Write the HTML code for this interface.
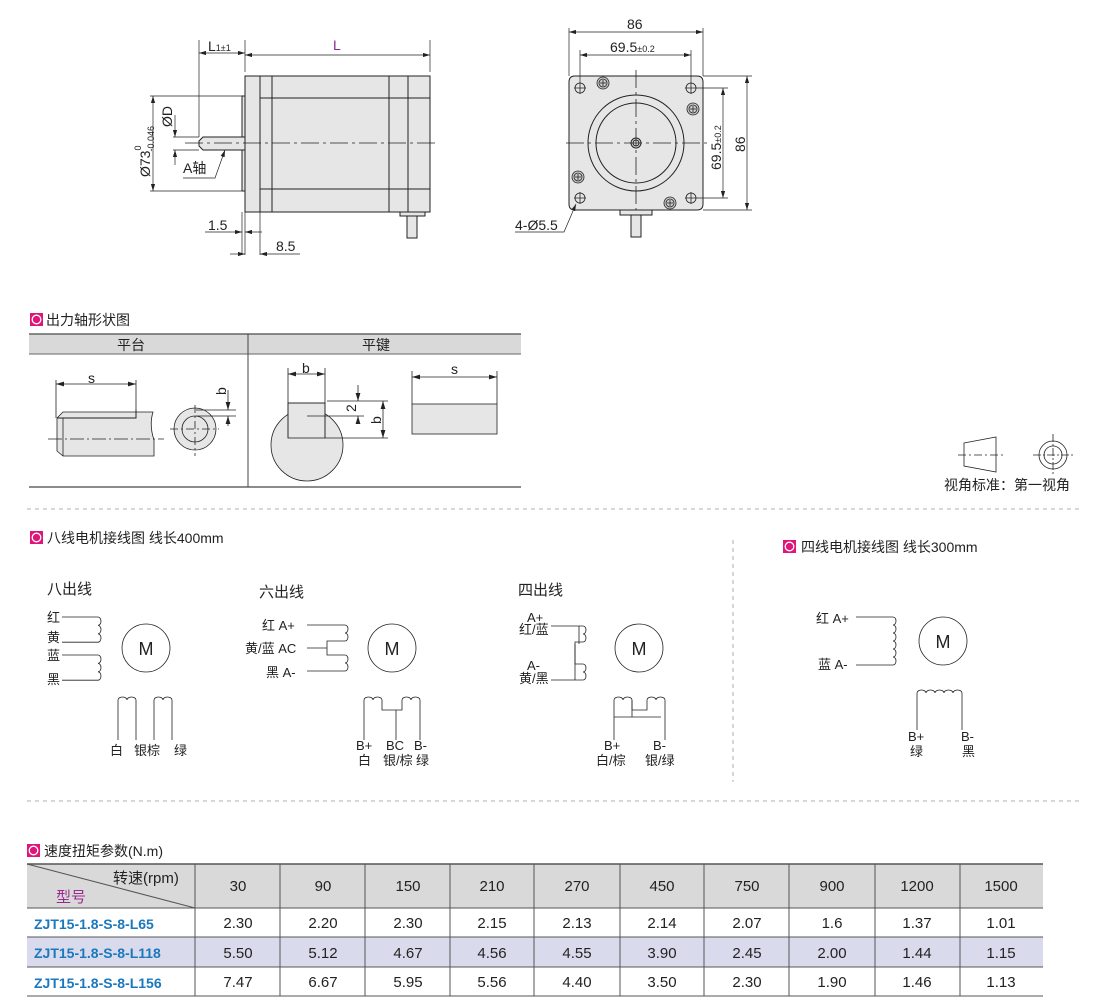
<!DOCTYPE html>
<html><head><meta charset="utf-8"><style>
html,body{margin:0;padding:0;background:#fff;}
svg{display:block;}
text{font-family:"Liberation Sans","Noto Sans CJK SC",sans-serif;fill:#222;}
</style></head><body>
<svg width="1110" height="998" viewBox="0 0 1110 998" xmlns="http://www.w3.org/2000/svg">
<defs>
<marker id="ar" viewBox="0 0 10 6" refX="10" refY="3" markerWidth="10" markerHeight="6" orient="auto-start-reverse"><path d="M0 0L10 3L0 6z" fill="#222"/></marker>
<g id="mk"><rect width="13" height="13" fill="#e0157a"/><circle cx="6.5" cy="6.5" r="4.3" fill="none" stroke="#fff" stroke-width="1.3"/></g>
</defs>
<g stroke="#222" stroke-width="1" fill="none">
<rect x="245" y="76" width="185" height="136" fill="#e6e6e6"/>
<rect x="242" y="96" width="3" height="95" fill="#e6e6e6"/>
<line x1="260" y1="76" x2="260" y2="212"/><line x1="272" y1="76" x2="272" y2="212"/>
<line x1="389" y1="76" x2="389" y2="212"/><line x1="408" y1="76" x2="408" y2="212"/>
<line x1="260" y1="98" x2="430" y2="98"/><line x1="260" y1="189" x2="430" y2="189"/>
<path d="M203 137H245V150H203L199 146V141Z" fill="#e6e6e6"/>
<line x1="185" y1="143" x2="438" y2="143" stroke-dasharray="18 4 3 4" stroke-width="0.8"/>
<rect x="400" y="212" width="25" height="4" fill="#e6e6e6"/>
<rect x="407" y="216" width="10" height="22" fill="#e6e6e6"/>
<line x1="199" y1="40" x2="199" y2="137" stroke-width="0.7"/>
<line x1="245" y1="40" x2="245" y2="72" stroke-width="0.7"/>
<line x1="430" y1="40" x2="430" y2="72" stroke-width="0.7"/>
<line x1="199" y1="53" x2="245" y2="53" marker-start="url(#ar)" marker-end="url(#ar)" stroke-width="0.7"/>
<line x1="245" y1="55" x2="430" y2="55" marker-start="url(#ar)" marker-end="url(#ar)" stroke-width="0.7"/>
<line x1="150" y1="96" x2="242" y2="96" stroke-width="0.7"/><line x1="150" y1="191" x2="242" y2="191" stroke-width="0.7"/>
<line x1="153" y1="96" x2="153" y2="191" marker-start="url(#ar)" marker-end="url(#ar)" stroke-width="0.7"/>
<line x1="173" y1="137" x2="199" y2="137" stroke-width="0.7"/><line x1="173" y1="150" x2="199" y2="150" stroke-width="0.7"/>
<line x1="175" y1="115" x2="175" y2="137" marker-end="url(#ar)" stroke-width="0.7"/>
<line x1="175" y1="165" x2="175" y2="150" marker-end="url(#ar)" stroke-width="0.7"/>
<path d="M183 178H215L225 150" stroke-width="0.7" marker-end="url(#ar)"/>
<line x1="242" y1="212" x2="242" y2="255" stroke-width="0.7"/><line x1="245" y1="212" x2="245" y2="255" stroke-width="0.7"/><line x1="260" y1="212" x2="260" y2="255" stroke-width="0.7"/>
<line x1="205" y1="232" x2="242" y2="232" marker-end="url(#ar)" stroke-width="0.7"/><line x1="262" y1="232" x2="245" y2="232" marker-end="url(#ar)" stroke-width="0.7"/>
<line x1="230" y1="254" x2="245" y2="254" marker-end="url(#ar)" stroke-width="0.7"/><line x1="300" y1="254" x2="260" y2="254" marker-end="url(#ar)" stroke-width="0.7"/>
<path d="M575 76H697Q703 76 703 82V204Q703 210 697 210H575Q569 210 569 204V82Q569 76 575 76Z" fill="#e6e6e6"/>
<circle cx="636" cy="143" r="48"/><circle cx="636" cy="143" r="40"/>
<circle cx="636" cy="143" r="5"/><circle cx="636" cy="143" r="3"/>
<line x1="566" y1="143" x2="707" y2="143" stroke-dasharray="18 4 3 4" stroke-width="0.8"/>
<line x1="636" y1="70" x2="636" y2="228" stroke-dasharray="18 4 3 4" stroke-width="0.8"/>
<g stroke-width="0.8">
<circle cx="580" cy="88" r="5"/><path d="M574 88h12M580 82v12"/>
<circle cx="691" cy="88" r="5"/><path d="M685 88h12M691 82v12"/>
<circle cx="580" cy="198" r="5"/><path d="M574 198h12M580 192v12"/>
<circle cx="691" cy="198" r="5"/><path d="M685 198h12M691 192v12"/>
<circle cx="603" cy="83" r="6" fill="#ccc"/><circle cx="603" cy="83" r="4"/><path d="M600 83h6M603 80v6"/>
<circle cx="693" cy="109" r="6" fill="#ccc"/><circle cx="693" cy="109" r="4"/><path d="M690 109h6M693 106v6"/>
<circle cx="578" cy="177" r="6" fill="#ccc"/><circle cx="578" cy="177" r="4"/><path d="M575 177h6M578 174v6"/>
<circle cx="670" cy="203" r="6" fill="#ccc"/><circle cx="670" cy="203" r="4"/><path d="M667 203h6M670 200v6"/>
</g>
<rect x="620" y="210" width="32" height="5" fill="#e6e6e6"/>
<rect x="631" y="215" width="10" height="22" fill="#e6e6e6"/>
<line x1="569" y1="28" x2="569" y2="76" stroke-width="0.7"/><line x1="703" y1="28" x2="703" y2="76" stroke-width="0.7"/>
<line x1="569" y1="32" x2="703" y2="32" marker-start="url(#ar)" marker-end="url(#ar)" stroke-width="0.7"/>
<line x1="580" y1="50" x2="580" y2="82" stroke-width="0.7"/><line x1="691" y1="50" x2="691" y2="82" stroke-width="0.7"/>
<line x1="580" y1="55" x2="691" y2="55" marker-start="url(#ar)" marker-end="url(#ar)" stroke-width="0.7"/>
<line x1="703" y1="76" x2="752" y2="76" stroke-width="0.7"/><line x1="703" y1="210" x2="752" y2="210" stroke-width="0.7"/>
<line x1="747" y1="76" x2="747" y2="210" marker-start="url(#ar)" marker-end="url(#ar)" stroke-width="0.7"/>
<line x1="697" y1="88" x2="728" y2="88" stroke-width="0.7"/><line x1="697" y1="198" x2="728" y2="198" stroke-width="0.7"/>
<line x1="723" y1="88" x2="723" y2="198" marker-start="url(#ar)" marker-end="url(#ar)" stroke-width="0.7"/>
<path d="M515 232H564L576 204" stroke-width="0.7" marker-end="url(#ar)"/>
</g>
<g font-size="14">
<text x="208" y="51">L<tspan font-size="9">1±1</tspan></text>
<text x="333" y="50" style="fill:#8a2c8a">L</text>
<text x="208" y="230">1.5</text><text x="276" y="251">8.5</text>
<text x="183" y="173">A轴</text>
<text transform="translate(172 127) rotate(-90)">ØD</text>
<text transform="translate(150 177) rotate(-90)">Ø73<tspan font-size="9" dy="-9">0</tspan><tspan font-size="9" dx="-6" dy="13">-0.046</tspan></text>
<text x="627" y="29">86</text>
<text x="610" y="52">69.5<tspan font-size="9">±0.2</tspan></text>
<text transform="translate(745 152) rotate(-90)">86</text>
<text transform="translate(721 170) rotate(-90)">69.5<tspan font-size="9">±0.2</tspan></text>
<text x="515" y="230">4-Ø5.5</text>
</g>
<use href="#mk" x="30" y="313"/>
<text x="46" y="325" font-size="14">出力轴形状图</text>
<rect x="29" y="334" width="492" height="20" fill="#d9d9d9"/>
<line x1="29" y1="334" x2="521" y2="334" stroke="#666" stroke-width="1.5"/>
<line x1="29" y1="354" x2="521" y2="354" stroke="#666"/>
<line x1="29" y1="487" x2="521" y2="487" stroke="#666" stroke-width="1.5"/>
<line x1="248" y1="334" x2="248" y2="487" stroke="#444"/>
<text x="117" y="350" font-size="14">平台</text><text x="362" y="350" font-size="14">平键</text>
<g stroke="#222" stroke-width="0.8" fill="none">
<path d="M57 418L63 412H153Q149 425 154 440V456H63L57 451Z" fill="#e6e6e6"/>
<line x1="63" y1="418" x2="63" y2="456"/>
<path d="M57 418H136V410" stroke-width="1"/>
<line x1="48" y1="439" x2="164" y2="439" stroke-dasharray="14 3 2 3"/>
<line x1="56" y1="380" x2="56" y2="418"/><line x1="136" y1="380" x2="136" y2="410"/>
<line x1="56" y1="384" x2="136" y2="384" marker-start="url(#ar)" marker-end="url(#ar)"/>
<circle cx="195" cy="429" r="21" fill="#e6e6e6"/><circle cx="195" cy="429" r="13"/>
<line x1="170" y1="429" x2="219" y2="429" stroke-dasharray="8 3 2 3"/>
<line x1="195" y1="405" x2="195" y2="456" stroke-dasharray="8 3 2 3"/>
<line x1="196" y1="410" x2="236" y2="410"/><line x1="196" y1="416" x2="236" y2="416"/>
<line x1="228" y1="390" x2="228" y2="410" marker-end="url(#ar)"/><line x1="228" y1="426" x2="228" y2="416" marker-end="url(#ar)"/>
<circle cx="307" cy="445" r="36" fill="#e6e6e6"/>
<rect x="288" y="403" width="37" height="35" fill="#e6e6e6"/>
<path d="M288 438V403H325V438" />
<line x1="288" y1="368" x2="288" y2="403"/><line x1="325" y1="368" x2="325" y2="403"/>
<line x1="288" y1="374" x2="325" y2="374" marker-start="url(#ar)" marker-end="url(#ar)"/>
<line x1="327" y1="401" x2="388" y2="401"/><line x1="307" y1="416" x2="364" y2="416"/><line x1="325" y1="438" x2="388" y2="438"/>
<line x1="358" y1="385" x2="358" y2="401" marker-end="url(#ar)"/><line x1="358" y1="424" x2="358" y2="416" marker-end="url(#ar)"/>
<line x1="383" y1="401" x2="383" y2="438" marker-start="url(#ar)" marker-end="url(#ar)"/>
<rect x="412" y="404" width="85" height="30" fill="#e6e6e6"/>
<line x1="412" y1="371" x2="412" y2="404"/><line x1="497" y1="371" x2="497" y2="404"/>
<line x1="412" y1="377" x2="497" y2="377" marker-start="url(#ar)" marker-end="url(#ar)"/>
</g>
<g font-size="14">
<text x="88" y="383">s</text><text x="302" y="373">b</text><text x="451" y="374">s</text>
<text transform="translate(226 395) rotate(-90)">b</text>
<text transform="translate(356 412) rotate(-90)">2</text>
<text transform="translate(381 424) rotate(-90)">b</text>
</g>
<g stroke="#222" stroke-width="0.8" fill="none">
<path d="M964 443L996 437V472L964 466Z"/>
<line x1="958" y1="455" x2="1003" y2="455" stroke-dasharray="8 3 2 3"/>
<circle cx="1053" cy="455" r="14"/><circle cx="1053" cy="455" r="9"/>
<line x1="1033" y1="455" x2="1073" y2="455" stroke-dasharray="8 2 2 2"/><line x1="1053" y1="434" x2="1053" y2="476" stroke-dasharray="8 2 2 2"/>
</g>
<text x="944" y="490" font-size="14">视角标准：第一视角</text>
<g stroke="#999" stroke-dasharray="4 4" stroke-width="0.8">
<line x1="27" y1="509" x2="1083" y2="509"/><line x1="27" y1="801" x2="1083" y2="801"/>
<line x1="733" y1="540" x2="733" y2="782"/>
</g>
<use href="#mk" x="30" y="531"/>
<text x="47" y="543" font-size="14">八线电机接线图  线长400mm</text>
<use href="#mk" x="783" y="540"/>
<text x="801" y="552" font-size="14">四线电机接线图  线长300mm</text>
<g font-size="15"><text x="47" y="594">八出线</text><text x="259" y="597">六出线</text><text x="518" y="595">四出线</text></g>
<g stroke="#222" stroke-width="0.8" fill="none">
<circle cx="146" cy="648" r="24"/><circle cx="392" cy="648" r="24"/><circle cx="639" cy="648" r="24"/><circle cx="943" cy="641" r="24"/>
<path d="M62 617H98a3 4.2 0 0 1 0 8.4a3 4.2 0 0 1 0 8.4a3 4.2 0 0 1 0 8.4H62"/>
<path d="M62 655H98a3 4.2 0 0 1 0 8.4a3 4.2 0 0 1 0 8.4a3 4.2 0 0 1 0 8.4H62"/>
<path d="M118 740V700a4.5 3 0 0 1 9 0a4.5 3 0 0 1 9 0v40"/>
<path d="M154 740V700a4.5 3 0 0 1 9 0a4.5 3 0 0 1 9 0v40"/>
<path d="M307 625H345a3 4 0 0 1 0 8a3 4 0 0 1 0 8H327V655H345a3 4 0 0 1 0 8a3 4 0 0 1 0 8H307"/>
<path d="M307 648H327"/>
<path d="M364 740V700a4.5 3 0 0 1 9 0a4.5 3 0 0 1 9 0v10H402V700a4.5 3 0 0 1 9 0a4.5 3 0 0 1 9 0v40"/>
<path d="M396 710V740"/>
<path d="M551 626H583a3 4 0 0 1 0 8a3 4 0 0 1 0 8H575V664H583a3 4 0 0 1 0 8a3 4 0 0 1 0 8H551"/>
<path d="M579 626V644M575 644V680"/>
<path d="M614 740V700a4.5 3 0 0 1 9 0a4.5 3 0 0 1 9 0v10H647V700a4.5 3 0 0 1 9 0a4.5 3 0 0 1 9 0v40"/>
<path d="M614 717H661M632 700V717"/>
<path d="M856 617H893a3 4 0 0 1 0 8a3 4 0 0 1 0 8a3 4 0 0 1 0 8a3 4 0 0 1 0 8a3 4 0 0 1 0 8a3 4 0 0 1 0 8H856"/>
<path d="M917 730V693a4.5 3 0 0 1 9 0a4.5 3 0 0 1 9 0a4.5 3 0 0 1 9 0a4.5 3 0 0 1 9 0a4.5 3 0 0 1 9 0v37"/>
</g>
<g font-size="18" text-anchor="middle"><text x="146" y="655">M</text><text x="392" y="655">M</text><text x="639" y="655">M</text><text x="943" y="648">M</text></g>
<g font-size="13">
<text x="47" y="622">红</text><text x="47" y="642">黄</text><text x="47" y="660">蓝</text><text x="47" y="684">黑</text>
<text x="110" y="755">白</text><text x="134" y="755">银棕</text><text x="174" y="755">绿</text>
<text x="262" y="630">红 A+</text><text x="245" y="653">黄/蓝 AC</text><text x="266" y="677">黑 A-</text>
<text x="356" y="750">B+</text><text x="386" y="750">BC</text><text x="414" y="750">B-</text>
<text x="358" y="765">白</text><text x="383" y="765">银/棕</text><text x="416" y="765">绿</text>
<text x="527" y="622">A+</text><text x="519" y="634">红/蓝</text>
<text x="527" y="670">A-</text><text x="519" y="683">黄/黑</text>
<text x="604" y="750">B+</text><text x="653" y="750">B-</text>
<text x="596" y="765">白/棕</text><text x="645" y="765">银/绿</text>
<text x="816" y="623">红 A+</text><text x="818" y="669">蓝 A-</text>
<text x="908" y="741">B+</text><text x="961" y="741">B-</text>
<text x="910" y="756">绿</text><text x="962" y="756">黑</text>
</g>
<use href="#mk" x="27" y="844"/>
<text x="44" y="856" font-size="14">速度扭矩参数(N.m)</text>
<rect x="27" y="864" width="1016" height="44" fill="#d9d9d9"/>
<rect x="27" y="937" width="1016" height="30" fill="#d9dbec"/>
<g stroke="#555" stroke-width="1">
<line x1="27" y1="864" x2="1043" y2="864" stroke-width="1.5"/>
<line x1="27" y1="908" x2="1043" y2="908"/><line x1="27" y1="937" x2="1043" y2="937"/>
<line x1="27" y1="967" x2="1043" y2="967"/><line x1="27" y1="996" x2="1043" y2="996"/>
<line x1="27" y1="864" x2="195" y2="908"/>
<line x1="195" y1="864" x2="195" y2="996"/><line x1="280" y1="864" x2="280" y2="996"/><line x1="365" y1="864" x2="365" y2="996"/>
<line x1="450" y1="864" x2="450" y2="996"/><line x1="534" y1="864" x2="534" y2="996"/><line x1="620" y1="864" x2="620" y2="996"/>
<line x1="704" y1="864" x2="704" y2="996"/><line x1="789" y1="864" x2="789" y2="996"/><line x1="875" y1="864" x2="875" y2="996"/><line x1="960" y1="864" x2="960" y2="996"/>
</g>
<text x="113" y="883" font-size="15">转速(rpm)</text>
<text x="56" y="902" font-size="15" style="fill:#9b2a8e">型号</text>
<g font-size="15" text-anchor="middle">
<text x="238" y="891">30</text><text x="323" y="891">90</text><text x="408" y="891">150</text><text x="492" y="891">210</text><text x="577" y="891">270</text><text x="662" y="891">450</text><text x="747" y="891">750</text><text x="832" y="891">900</text><text x="917" y="891">1200</text><text x="1001" y="891">1500</text>
<text x="238" y="928">2.30</text><text x="323" y="928">2.20</text><text x="408" y="928">2.30</text><text x="492" y="928">2.15</text><text x="577" y="928">2.13</text><text x="662" y="928">2.14</text><text x="747" y="928">2.07</text><text x="832" y="928">1.6</text><text x="917" y="928">1.37</text><text x="1001" y="928">1.01</text>
<text x="238" y="958">5.50</text><text x="323" y="958">5.12</text><text x="408" y="958">4.67</text><text x="492" y="958">4.56</text><text x="577" y="958">4.55</text><text x="662" y="958">3.90</text><text x="747" y="958">2.45</text><text x="832" y="958">2.00</text><text x="917" y="958">1.44</text><text x="1001" y="958">1.15</text>
<text x="238" y="987">7.47</text><text x="323" y="987">6.67</text><text x="408" y="987">5.95</text><text x="492" y="987">5.56</text><text x="577" y="987">4.40</text><text x="662" y="987">3.50</text><text x="747" y="987">2.30</text><text x="832" y="987">1.90</text><text x="917" y="987">1.46</text><text x="1001" y="987">1.13</text>
</g>
<g font-size="14" font-weight="bold">
<text x="34" y="929" style="fill:#1a78be">ZJT15-1.8-S-8-L65</text>
<text x="34" y="958" style="fill:#1a78be">ZJT15-1.8-S-8-L118</text>
<text x="34" y="988" style="fill:#1a78be">ZJT15-1.8-S-8-L156</text>
</g>
</svg>
</body></html>
